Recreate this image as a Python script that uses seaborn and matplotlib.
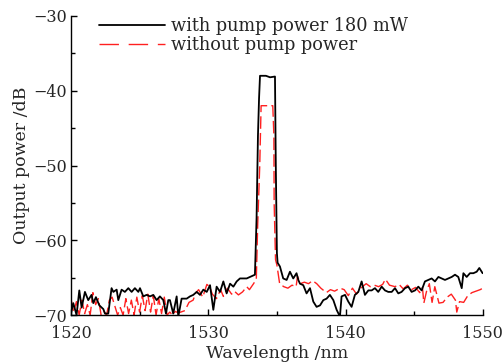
import numpy as np
import pandas as pd
import matplotlib
matplotlib.use("Agg")
import matplotlib.pyplot as plt
from matplotlib.lines import Line2D
from matplotlib.ticker import MultipleLocator
import seaborn as sns

# 读图得到的数据：有泵浦 (180 mW) 的输出谱
pump_wl = [1520.0, 1520.17, 1520.41, 1520.61, 1520.78, 1521.02, 1521.26, 1521.50, 1521.63, 1521.82,
           1522.07, 1522.36, 1522.48, 1522.72, 1522.96, 1523.09, 1523.33, 1523.45, 1523.69, 1523.93,
           1524.18, 1524.42, 1524.66, 1524.91, 1525.03, 1525.27, 1525.51, 1525.76, 1526.00, 1526.24,
           1526.48, 1526.73, 1526.92, 1527.09, 1527.21, 1527.45, 1527.70, 1527.82, 1528.06, 1528.43,
           1528.67, 1528.91, 1529.16, 1529.40, 1529.64, 1529.89, 1530.13, 1530.37, 1530.61, 1530.86,
           1531.10, 1531.34, 1531.59, 1531.83, 1532.07, 1532.31, 1532.56, 1532.80, 1533.04, 1533.40,
           1533.52, 1533.62, 1533.70, 1533.77, 1534.20, 1534.50, 1534.86, 1534.92, 1535.00, 1535.05,
           1535.22, 1535.46, 1535.71, 1535.95, 1536.19, 1536.43, 1536.56, 1536.68, 1536.92, 1537.16,
           1537.41, 1537.65, 1537.89, 1538.14, 1538.38, 1538.62, 1538.86, 1539.11, 1539.35, 1539.59,
           1539.71, 1539.96, 1540.20, 1540.44, 1540.68, 1540.93, 1541.17, 1541.41, 1541.66, 1541.90,
           1542.14, 1542.38, 1542.63, 1542.87, 1543.11, 1543.36, 1543.60, 1543.84, 1544.08, 1544.33,
           1544.57, 1544.81, 1545.06, 1545.30, 1545.54, 1545.78, 1546.03, 1546.27, 1546.51, 1546.76,
           1547.00, 1547.24, 1547.48, 1547.73, 1547.97, 1548.21, 1548.46, 1548.58, 1548.82, 1549.06,
           1549.31, 1549.55, 1549.74, 1549.98]
pump_db = [-69.8, -68.4, -70.0, -66.7, -69.0, -66.9, -68.0, -67.3, -68.4, -67.6,
           -68.7, -69.2, -69.8, -69.8, -66.4, -66.9, -66.6, -68.0, -66.6, -66.9,
           -66.4, -66.9, -66.4, -66.9, -66.4, -67.5, -67.3, -67.5, -67.3, -68.0,
           -67.5, -68.0, -69.8, -68.0, -68.0, -69.8, -67.5, -70.2, -67.8, -67.8,
           -67.5, -67.3, -66.9, -67.3, -66.6, -66.9, -66.0, -69.3, -66.2, -66.9,
           -65.5, -67.1, -65.8, -66.2, -65.5, -65.1, -65.1, -65.1, -64.9, -64.6,
           -57.0, -46.0, -41.0, -38.0, -38.0, -38.2, -38.1, -50.0, -61.7, -63.0,
           -63.5, -65.1, -65.3, -64.2, -65.1, -64.4, -65.3, -65.8, -66.0, -67.1,
           -66.4, -68.2, -68.9, -68.7, -68.0, -67.8, -67.3, -68.0, -69.3, -70.2,
           -67.5, -67.3, -68.2, -68.9, -67.3, -66.9, -65.5, -67.3, -66.7, -66.7,
           -66.4, -66.9, -66.2, -66.7, -66.9, -66.9, -66.4, -67.1, -66.9, -66.4,
           -66.2, -66.9, -66.7, -66.2, -66.7, -65.5, -65.3, -65.1, -65.5, -64.9,
           -65.1, -65.3, -65.1, -64.9, -64.6, -64.9, -66.4, -64.4, -64.9, -64.4,
           -64.4, -64.2, -63.7, -64.4]

# 无泵浦的输出谱
nopump_wl = [1520.0, 1520.2, 1520.4, 1520.6, 1520.8, 1521.0, 1521.2, 1521.4, 1521.6, 1521.8,
             1522.0, 1522.2, 1522.4, 1522.6, 1522.8, 1523.0, 1523.2, 1523.4, 1523.6, 1523.8,
             1524.0, 1524.2, 1524.4, 1524.6, 1524.8, 1525.0, 1525.2, 1525.4, 1525.6, 1525.8,
             1526.0, 1526.2, 1526.4, 1526.6, 1526.8, 1527.0, 1527.2, 1527.4, 1527.6, 1527.8,
             1528.0, 1528.3, 1528.6, 1528.9, 1529.1, 1529.3, 1529.6, 1529.9, 1530.1, 1530.3,
             1530.6, 1530.9, 1531.1, 1531.4, 1531.7, 1531.9, 1532.2, 1532.5, 1532.8, 1533.0,
             1533.3, 1533.5, 1533.6, 1533.75, 1533.85, 1534.7, 1534.78, 1534.8, 1534.9, 1535.0,
             1535.2, 1535.5, 1535.8, 1536.1, 1536.4, 1536.5, 1536.7, 1537.0, 1537.3, 1537.6,
             1537.9, 1538.2, 1538.6, 1538.9, 1539.2, 1539.6, 1539.9, 1540.2, 1540.5, 1540.8,
             1541.1, 1541.5, 1541.8, 1542.1, 1542.4, 1542.7, 1542.9, 1543.2, 1543.6, 1543.9,
             1544.2, 1544.5, 1544.8, 1545.1, 1545.4, 1545.6, 1545.7, 1545.9, 1546.1, 1546.3,
             1546.5, 1546.8, 1547.1, 1547.4, 1547.7, 1548.0, 1548.1, 1548.3, 1548.6, 1548.9,
             1549.2, 1549.5, 1549.8, 1550.0]
nopump_db = [-67.8, -69.6, -68.2, -70.0, -68.0, -69.8, -68.6, -70.0, -67.0, -68.6,
             -67.8, -70.0, -69.5, -70.0, -68.0, -67.6, -68.8, -70.0, -69.0, -70.0,
             -67.8, -69.8, -68.0, -70.0, -67.6, -69.6, -67.4, -69.4, -67.2, -69.6,
             -67.4, -70.0, -67.8, -69.8, -67.6, -70.0, -69.6, -70.0, -69.5, -69.7,
             -69.6, -69.4, -68.3, -68.0, -67.0, -66.6, -67.6, -65.9, -66.2, -67.2,
             -67.8, -66.6, -67.5, -66.4, -67.2, -66.8, -67.3, -66.9, -66.2, -66.6,
             -65.8, -65.2, -58.0, -50.0, -42.0, -42.0, -46.0, -55.0, -62.6, -63.3,
             -65.8, -66.2, -66.4, -66.0, -66.2, -64.8, -65.8, -65.6, -65.8, -65.4,
             -65.8, -66.4, -67.0, -66.6, -66.8, -66.4, -66.6, -67.4, -66.4, -67.2,
             -66.4, -65.8, -66.2, -66.0, -66.2, -65.9, -65.2, -66.0, -66.2, -65.9,
             -66.5, -66.0, -66.6, -66.3, -67.0, -66.3, -68.4, -66.8, -65.8, -68.3,
             -66.2, -68.4, -68.3, -67.6, -67.2, -68.0, -69.6, -68.2, -68.3, -67.4,
             -67.0, -66.8, -66.6, -66.4]

pump_label = "with pump power 180 mW"
nopump_label = "without pump power"

df_pump = pd.DataFrame({"wl": pump_wl, "db": pump_db})
df_nopump = pd.DataFrame({"wl": nopump_wl, "db": nopump_db})

sns.set_style("ticks")
plt.rcParams['font.family'] = ['DejaVu Serif']
plt.rcParams['mathtext.fontset'] = 'dejavuserif'

fig = plt.figure(figsize=(5.03, 3.63), dpi=100)
ax = fig.add_axes([0.141, 0.132, 0.819, 0.824])

sns.lineplot(data=df_nopump, x="wl", y="db", sort=False, estimator=None, ax=ax,
             color="#ff2020", linewidth=1.0, dashes=False)
ax.lines[-1].set_dashes((9, 3))
sns.lineplot(data=df_pump, x="wl", y="db", sort=False, estimator=None, ax=ax,
             color="black", linewidth=1.3)

ax.set_xlim(1520, 1550)
ax.set_ylim(-70, -30)
ax.xaxis.set_major_locator(MultipleLocator(10))
ax.xaxis.set_minor_locator(MultipleLocator(5))
ax.yaxis.set_major_locator(MultipleLocator(10))
ax.yaxis.set_minor_locator(MultipleLocator(5))
ax.tick_params(which="both", direction="in", labelsize=11.5, width=1.0, color="black")
ax.tick_params(axis="x", which="both", pad=7)
ax.tick_params(axis="y", which="both", pad=3)
ax.tick_params(which="major", length=4)
ax.tick_params(which="minor", length=3)
sns.despine(ax=ax)
for s in ["left", "bottom"]:
    ax.spines[s].set_linewidth(1.0)
    ax.spines[s].set_color("black")

ax.set_xlabel("Wavelength /nm", fontsize=12.5, labelpad=2)
ax.set_ylabel("Output power /dB", fontsize=12.5, labelpad=2)

handles = [Line2D([], [], color="black", linewidth=1.3),
           Line2D([], [], color="#ff2020", linewidth=1.0, dashes=(14, 7))]
ax.legend(handles, [pump_label, nopump_label], loc="upper left", bbox_to_anchor=(0.068, 0.995),
          frameon=False, fontsize=12.8, handlelength=3.7, handletextpad=0.35,
          labelspacing=0.05, borderpad=0, borderaxespad=0)

fig.savefig("out.png", dpi=100, facecolor="white")
